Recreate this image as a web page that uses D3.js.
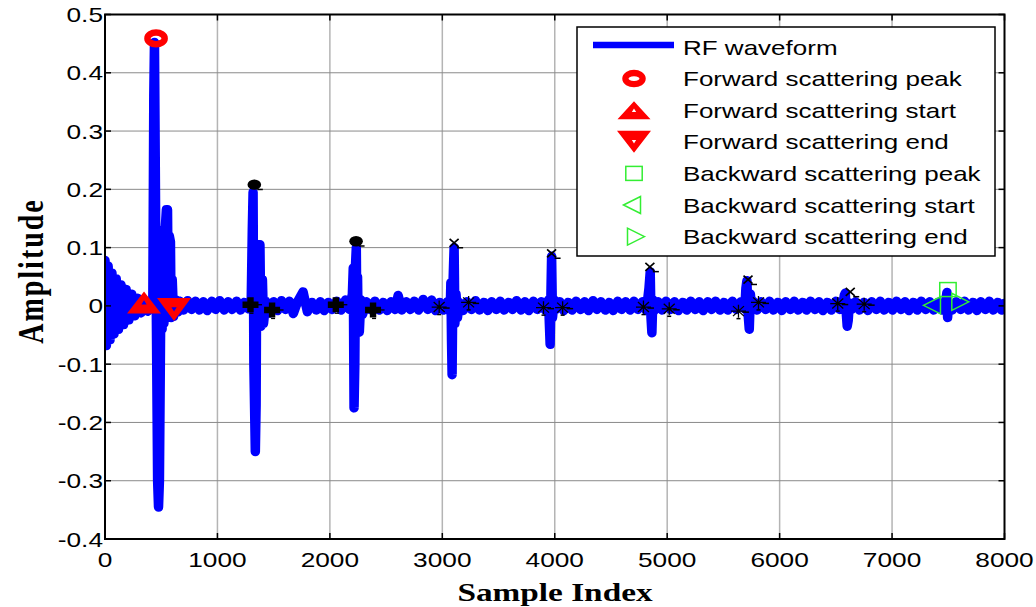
<!DOCTYPE html>
<html>
<head>
<meta charset="utf-8">
<script src="https://cdn.jsdelivr.net/npm/d3@7"></script>
<style>
  html, body { margin: 0; padding: 0; background: #fff; }
  svg { display: block; }
</style>
</head>
<body>
<svg id="chart" width="1036" height="607"></svg>
<script>
// ---- data -------------------------------------------------------------
// RF waveform vertices: [sample index, amplitude]
const rfWaveform = [
  [0,0.078],[12,-0.068],[28,0.068],[45,-0.058],[62,0.056],[80,-0.048],[100,0.046],[120,-0.04],
  [142,0.036],[165,-0.032],[188,0.028],[212,-0.024],[238,0.02],[265,-0.017],[292,0.013],[320,-0.012],
  [350,0.009],[380,-0.009],[405,0.006],[425,-0.004],
  [434,0.36],[440,0.452],[452,0.1],[468,-0.3],[476,-0.345],[484,-0.3],[494,-0.05],[502,0.125],
  [508,-0.04],[516,0.13],[524,-0.03],[532,0.12],[546,0.165],[556,0.165],[562,0.02],[572,0.12],
  [582,0.11],[588,-0.02],[598,0.045],[610,-0.018],[630,0.01],[650,-0.01],
  [665,0.008],[700,-0.007],[735,0.009],[770,-0.006],[805,0.008],[840,-0.007],[875,0.007],[910,-0.008],
  [950,0.008],[985,-0.006],[1020,0.009],[1060,-0.007],[1095,0.007],[1130,-0.006],[1170,0.008],[1205,-0.007],
  [1240,0.006],[1275,-0.005],
  [1300,0.004],[1310,0.13],[1317,0.195],[1324,-0.1],[1337,-0.25],[1344,-0.17],[1350,0.105],[1356,0.0],
  [1364,0.105],[1370,0.0],[1378,0.105],[1386,-0.035],[1400,0.045],[1410,-0.03],[1430,0.008],
  [1465,-0.012],[1500,0.007],[1535,-0.008],[1570,0.009],[1605,-0.006],[1640,0.008],[1675,-0.013],[1710,0.006],
  [1762,0.024],[1800,-0.01],[1840,0.006],[1880,-0.007],[1915,0.007],[1950,-0.008],[1985,0.006],[2020,-0.006],
  [2060,0.008],[2100,-0.007],[2140,0.01],[2175,-0.006],[2200,0.02],
  [2208,0.065],[2215,-0.175],[2222,-0.1],[2228,0.07],[2235,0.1],[2240,-0.03],[2246,0.05],[2252,-0.04],
  [2262,-0.045],[2275,0.01],[2290,-0.015],
  [2325,0.007],[2360,-0.006],[2400,0.008],[2440,-0.007],[2475,0.006],[2510,-0.008],[2545,0.007],[2580,-0.006],
  [2607,0.018],[2640,-0.007],[2680,0.007],[2715,-0.006],[2750,0.008],[2790,-0.007],[2830,0.011],[2870,-0.006],
  [2905,0.01],[2940,-0.008],[2975,0.006],[3010,-0.007],[3045,0.007],[3070,-0.01],
  [3076,0.04],[3082,-0.06],[3087,-0.118],[3094,0.03],[3100,0.07],[3105,0.1],[3112,-0.03],[3122,0.02],
  [3135,-0.02],[3150,0.006],
  [3185,-0.008],[3220,0.007],[3260,-0.006],[3295,0.009],[3330,-0.007],[3370,0.006],[3405,-0.008],[3440,0.007],
  [3480,-0.006],[3515,0.008],[3550,-0.007],[3590,0.006],[3625,-0.006],[3660,0.009],[3700,-0.007],[3735,0.007],
  [3770,-0.008],[3810,0.008],[3845,-0.006],[3880,0.007],[3915,-0.007],[3945,0.01],
  [3952,-0.03],[3959,-0.066],[3966,0.02],[3972,0.085],[3980,-0.02],[3995,0.01],[4010,-0.006],
  [4045,0.007],[4080,-0.008],[4120,0.006],[4155,-0.007],[4190,0.008],[4230,-0.006],[4265,0.007],[4300,-0.008],
  [4340,0.009],[4375,-0.006],[4410,0.007],[4450,-0.007],[4485,0.006],[4520,-0.008],[4560,0.008],[4595,-0.006],
  [4630,0.007],[4670,-0.007],[4705,0.008],[4740,-0.006],[4780,0.007],[4815,-0.008],
  [4838,0.03],[4849,0.058],[4856,-0.02],[4864,-0.046],[4872,0.01],[4885,-0.008],
  [4920,0.007],[4955,-0.007],[4990,0.008],[5030,-0.006],[5065,0.007],[5100,-0.008],[5140,0.006],[5175,-0.007],
  [5210,0.008],[5250,-0.006],[5285,0.007],[5320,-0.008],[5360,0.007],[5395,-0.006],[5430,0.008],[5470,-0.007],
  [5505,0.006],[5540,-0.007],[5580,0.008],[5615,-0.006],[5655,0.007],[5690,-0.005],
  [5700,0.03],[5709,0.043],[5718,-0.01],[5730,-0.04],[5740,0.02],[5752,-0.006],[5765,0.008],
  [5800,-0.007],[5835,0.007],[5875,-0.006],[5910,0.008],[5945,-0.007],[5985,0.006],[6020,-0.008],[6055,0.007],
  [6095,-0.006],[6130,0.008],[6165,-0.007],[6205,0.006],[6240,-0.007],[6275,0.008],[6315,-0.006],[6350,0.007],
  [6385,-0.008],[6425,0.006],[6460,-0.007],[6500,0.008],[6535,-0.006],[6565,0.006],
  [6575,0.018],[6584,0.022],[6592,-0.01],[6601,-0.035],[6610,-0.025],[6620,0.005],[6640,-0.006],
  [6675,0.007],[6710,-0.007],[6750,0.006],[6785,-0.008],[6820,0.007],[6860,-0.006],[6895,0.008],[6930,-0.007],
  [6970,0.006],[7005,-0.007],[7040,0.008],[7080,-0.006],[7115,0.007],[7150,-0.008],[7190,0.006],[7225,-0.007],
  [7260,0.008],[7300,-0.006],[7335,0.007],[7370,-0.007],[7410,0.006],[7445,-0.007],
  [7475,0.005],[7488,0.023],[7494,-0.02],[7502,0.004],
  [7535,-0.007],[7570,0.007],[7610,-0.006],[7645,0.008],[7680,-0.007],[7720,0.006],[7755,-0.008],[7790,0.007],
  [7830,-0.006],[7865,0.008],[7900,-0.007],[7940,0.006],[7975,-0.007],[7995,0.004]
];

// forward scattering (first echo)
const forwardPeak  = [[454, 0.459]];
const forwardStart = [[347, 0.006]];
const forwardEnd   = [[614, -0.006]];

// backward scattering (last echo)
const backwardPeak  = [[7497, 0.028]];
const backwardStart = [[7355, 0.001]];
const backwardEnd   = [[7607, 0.007]];

// intermediate echoes: strong ones (filled markers) and weak ones (x / asterisk)
const strongEchoPeaks  = [[1328, 0.208], [2233, 0.111]];
const strongEchoBounds = [[1294, 0.002], [1486, -0.007], [2053, 0.002], [2384, -0.007]];
const weakEchoPeaks    = [[3105, 0.108], [3972, 0.09], [4846, 0.067], [5719, 0.045], [6628, 0.024]];
const weakEchoBounds   = [[2972, -0.002], [3234, 0.006], [3900, -0.003], [4070, -0.003],
                          [4789, -0.002], [5018, -0.005], [5634, -0.009], [5812, 0.006],
                          [6517, 0.004], [6752, 0.003]];

const xTicks = [0, 1000, 2000, 3000, 4000, 5000, 6000, 7000, 8000];
const yTicks = [-0.4, -0.3, -0.2, -0.1, 0, 0.1, 0.2, 0.3, 0.4, 0.5];

const legendLabels = [
  "RF waveform",
  "Forward scattering peak",
  "Forward scattering start",
  "Forward scattering end",
  "Backward scattering peak",
  "Backward scattering start",
  "Backward scattering end"
];

// ---- layout -----------------------------------------------------------
const svg = d3.select("#chart");
const plot = { left: 105, right: 1004.5, top: 14.5, bottom: 539 };
const x = d3.scaleLinear().domain([0, 8000]).range([plot.left, plot.right]);
const y = d3.scaleLinear().domain([-0.4, 0.5]).range([plot.bottom, plot.top]);

const BLUE = "#0000ff", RED = "#ff0000", GREEN = "#33ee33";
const SANS = "'Liberation Sans', Arial, Helvetica, sans-serif";
const SERIF = "'Liberation Serif', 'Times New Roman', Times, serif";
const TICK_STRETCH = 1.25;    // glyphs are drawn a little wider than tall
const LEGEND_STRETCH = 1.3;

svg.append("defs").append("clipPath").attr("id", "plotClip")
  .append("rect")
  .attr("x", plot.left).attr("y", plot.top)
  .attr("width", plot.right - plot.left).attr("height", plot.bottom - plot.top);

// grid
const grid = svg.append("g");
grid.selectAll("line.v").data(xTicks.slice(1, -1)).join("line")
  .attr("x1", d => x(d)).attr("x2", d => x(d))
  .attr("y1", plot.top).attr("y2", plot.bottom)
  .attr("stroke", "#b4b4b4").attr("stroke-width", 1.5);
grid.selectAll("line.h").data(yTicks.slice(1, -1)).join("line")
  .attr("x1", plot.left).attr("x2", plot.right)
  .attr("y1", d => y(d)).attr("y2", d => y(d))
  .attr("stroke", "#8a8a8a").attr("stroke-width", 1);

// waveform
const marks = svg.append("g").attr("clip-path", "url(#plotClip)");
marks.append("path")
  .datum(rfWaveform)
  .attr("d", d3.line().x(d => x(d[0])).y(d => y(d[1])))
  .attr("fill", "none")
  .attr("stroke", BLUE)
  .attr("stroke-width", 9.5)
  .attr("stroke-linejoin", "round")
  .attr("stroke-linecap", "round");

// ---- marker shapes ----------------------------------------------------
function triUp(w, h, hole) {
  return `M0,${-h/2}L${w/2},${h/2}L${-w/2},${h/2}Z` +
         `M0,${-hole}L${hole*1.2},${hole}L${-hole*1.2},${hole}Z`;
}
function triDown(w, h, hole) {
  return `M0,${h/2}L${w/2},${-h/2}L${-w/2},${-h/2}Z` +
         `M0,${hole}L${hole*1.2},${-hole}L${-hole*1.2},${-hole}Z`;
}
function drawRing(g, cx, cy) {
  g.append("ellipse").attr("cx", cx).attr("cy", cy)
    .attr("rx", 8.6).attr("ry", 5.8)
    .attr("fill", "none").attr("stroke", RED).attr("stroke-width", 6.5);
}
function drawTri(g, cx, cy, up) {
  g.append("path")
    .attr("transform", `translate(${cx},${cy})`)
    .attr("d", up ? triUp(34, 22, 2.2) : triDown(34, 23, 2.2))
    .attr("fill", RED).attr("fill-rule", "evenodd");
}
function drawSquare(g, cx, cy) {
  g.append("rect").attr("x", cx - 8.2).attr("y", cy - 7)
    .attr("width", 16.4).attr("height", 14)
    .attr("fill", "none").attr("stroke", GREEN).attr("stroke-width", 1.5);
}
function drawOpenTri(g, cx, cy, left) {
  const p = left ? "M-8.5,0L8.5,-8.5L8.5,8.5Z" : "M8.5,0L-8.5,-8.5L-8.5,8.5Z";
  g.append("path").attr("transform", `translate(${cx},${cy})`).attr("d", p)
    .attr("fill", "none").attr("stroke", GREEN).attr("stroke-width", 1.5);
}

// strong echo markers
const echoes = svg.append("g");
strongEchoPeaks.forEach(([s, a]) => {
  const cx = x(s), cy = y(a);
  echoes.append("ellipse").attr("cx", cx).attr("cy", cy).attr("rx", 6.8).attr("ry", 5.2)
    .attr("fill", "#000");
  echoes.append("line").attr("x1", cx + 3).attr("x2", cx + 8.5)
    .attr("y1", cy + 4.8).attr("y2", cy + 4.8).attr("stroke", "#000").attr("stroke-width", 1.5);
});
strongEchoBounds.forEach(([s, a]) => {
  const cx = x(s), cy = y(a);
  echoes.append("path").attr("transform", `translate(${cx},${cy})`)
    .attr("d", "M-8,-3.2H-3.2V-7.5H3.2V-3.2H8V3.2H3.2V7.5H-3.2V3.2H-8Z").attr("fill", "#000");
  echoes.append("line").attr("x1", cx + 7).attr("x2", cx + 11.5)
    .attr("y1", cy).attr("y2", cy).attr("stroke", "#000").attr("stroke-width", 1.3);
  echoes.append("line").attr("x1", cx - 1).attr("x2", cx + 3)
    .attr("y1", cy + 8.5).attr("y2", cy + 8.5).attr("stroke", "#000").attr("stroke-width", 1.3);
});
weakEchoPeaks.forEach(([s, a]) => {
  const cx = x(s), cy = y(a);
  echoes.append("path").attr("transform", `translate(${cx},${cy})`)
    .attr("d", "M-4.5,-4L4.5,4M-4.5,4L4.5,-4")
    .attr("stroke", "#000").attr("stroke-width", 1.7).attr("fill", "none");
  echoes.append("line").attr("x1", cx + 3).attr("x2", cx + 9)
    .attr("y1", cy + 4.8).attr("y2", cy + 4.8).attr("stroke", "#000").attr("stroke-width", 1.5);
});
weakEchoBounds.forEach(([s, a]) => {
  const cx = x(s), cy = y(a);
  echoes.append("path").attr("transform", `translate(${cx},${cy})`)
    .attr("d", "M-7.5,0H7.5M0,-6.5V6.5M-5.5,-5L5.5,5M-5.5,5L5.5,-5")
    .attr("stroke", "#000").attr("stroke-width", 1.3).attr("fill", "none");
  echoes.append("line").attr("x1", cx + 4).attr("x2", cx + 10.5)
    .attr("y1", cy + 1).attr("y2", cy + 1).attr("stroke", "#000").attr("stroke-width", 1.5);
  echoes.append("line").attr("x1", cx - 2).attr("x2", cx + 2)
    .attr("y1", cy + 7.5).attr("y2", cy + 7.5).attr("stroke", "#000").attr("stroke-width", 1.5);
});

// forward / backward scattering markers
const fb = svg.append("g");
forwardPeak.forEach(([s, a]) => drawRing(fb, x(s), y(a)));
forwardStart.forEach(([s, a]) => drawTri(fb, x(s), y(a), true));
forwardEnd.forEach(([s, a]) => drawTri(fb, x(s), y(a), false));
backwardPeak.forEach(([s, a]) => drawSquare(fb, x(s), y(a)));
backwardStart.forEach(([s, a]) => drawOpenTri(fb, x(s), y(a), true));
backwardEnd.forEach(([s, a]) => drawOpenTri(fb, x(s), y(a), false));

// ---- axes -------------------------------------------------------------
const axes = svg.append("g");
axes.append("rect")
  .attr("x", plot.left).attr("y", plot.top)
  .attr("width", plot.right - plot.left).attr("height", plot.bottom - plot.top)
  .attr("fill", "none").attr("stroke", "#000").attr("stroke-width", 2);

const TICK = 6;
xTicks.forEach(v => {
  axes.append("line").attr("x1", x(v)).attr("x2", x(v))
    .attr("y1", plot.bottom).attr("y2", plot.bottom - TICK).attr("stroke", "#000").attr("stroke-width", 1.5);
  axes.append("line").attr("x1", x(v)).attr("x2", x(v))
    .attr("y1", plot.top).attr("y2", plot.top + TICK).attr("stroke", "#000").attr("stroke-width", 1.5);
  axes.append("text")
    .attr("transform", `translate(${x(v)},${plot.bottom + 28}) scale(${TICK_STRETCH},1)`)
    .attr("text-anchor", "middle")
    .attr("font-family", SANS).attr("font-size", 21).attr("fill", "#000")
    .text(String(v));
});
yTicks.forEach(v => {
  axes.append("line").attr("x1", plot.left).attr("x2", plot.left + TICK)
    .attr("y1", y(v)).attr("y2", y(v)).attr("stroke", "#000").attr("stroke-width", 1.5);
  axes.append("line").attr("x1", plot.right).attr("x2", plot.right - TICK)
    .attr("y1", y(v)).attr("y2", y(v)).attr("stroke", "#000").attr("stroke-width", 1.5);
  axes.append("text")
    .attr("transform", `translate(${plot.left - 2},${y(v) + 7.5}) scale(${TICK_STRETCH},1)`)
    .attr("text-anchor", "end")
    .attr("font-family", SANS).attr("font-size", 21).attr("fill", "#000")
    .text(String(v));
});

// axis titles
svg.append("text")
  .attr("transform", `translate(555,601) scale(1.28,1)`)
  .attr("text-anchor", "middle")
  .attr("font-family", SERIF).attr("font-weight", "bold").attr("font-size", 26)
  .text("Sample Index");
svg.append("text")
  .attr("transform", `translate(43,271) scale(1.3,1) rotate(-90)`)
  .attr("text-anchor", "middle")
  .attr("font-family", SERIF).attr("font-weight", "bold").attr("font-size", 28)
  .attr("letter-spacing", 2)
  .text("Amplitude");

// ---- legend -----------------------------------------------------------
const legend = svg.append("g");
legend.append("rect").attr("x", 577).attr("y", 27).attr("width", 418).attr("height", 229)
  .attr("fill", "#fff").attr("stroke", "#000").attr("stroke-width", 1.5);
const rowY = i => 47 + i * 31.6;
const symX = 634;
legend.append("line").attr("x1", 593).attr("x2", 674).attr("y1", rowY(0) - 2).attr("y2", rowY(0) - 2)
  .attr("stroke", BLUE).attr("stroke-width", 6.5);
{
  const g = legend.append("g");
  g.append("ellipse").attr("cx", symX).attr("cy", rowY(1)).attr("rx", 8.6).attr("ry", 5.6)
    .attr("fill", "none").attr("stroke", RED).attr("stroke-width", 6.3);
  g.append("path").attr("transform", `translate(${symX},${rowY(2)})`)
    .attr("d", triUp(33, 18, 1.8)).attr("fill", RED).attr("fill-rule", "evenodd");
  g.append("path").attr("transform", `translate(${symX},${rowY(3)})`)
    .attr("d", triDown(34, 22, 1.8)).attr("fill", RED).attr("fill-rule", "evenodd");
  drawSquare(g, symX, rowY(4));
  drawOpenTri(g, symX - 2, rowY(5), true);
  drawOpenTri(g, symX + 2, rowY(6), false);
}
legendLabels.forEach((t, i) => {
  legend.append("text")
    .attr("transform", `translate(683,${rowY(i) + 7.5}) scale(${LEGEND_STRETCH},1)`)
    .attr("font-family", SANS).attr("font-size", 20).attr("fill", "#000")
    .text(t);
});
</script>
</body>
</html>
